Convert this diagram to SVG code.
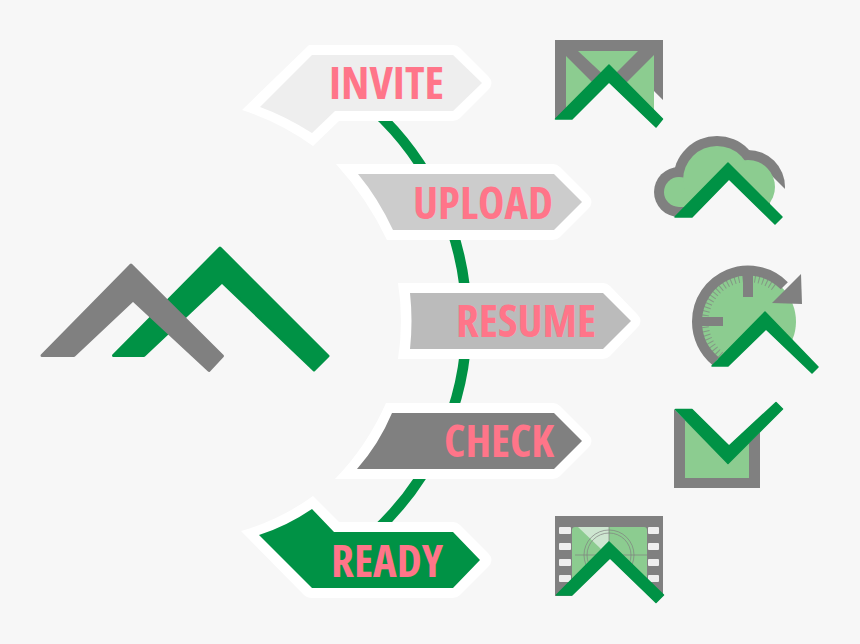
<svg xmlns="http://www.w3.org/2000/svg" width="860" height="644" viewBox="0 0 860 644">
<style>
.t{font-family:"Open Sans","Liberation Sans",sans-serif;font-weight:700;font-stretch:75%;font-size:45px;fill:#ff7589;text-anchor:start}
.w{fill:#fff}
.g{fill:#808080}
.l{fill:#8ccc90}
.d{fill:#009245;stroke:#009245;stroke-width:1.5;stroke-linejoin:round}
.e{fill:#f7f7f7}
.h{fill:#eee}
</style>
<defs>
<clipPath id="cloudClip"><polygon points="640,120 800,120 800,204 770,174 770,240 640,240"/></clipPath>
</defs>
<rect width="860" height="644" fill="#f7f7f7"/>
<g id="connectors">
<path d="M374 110A287 287 0 0 1 374 532.500" fill="none" stroke="#009245" stroke-width="10.500"/>
</g>
<g id="logo">
<polygon fill="#009245" stroke="#009245" stroke-width="3" stroke-linejoin="round" points="113.500,355.500 220,248 328,356 314,370 222,282 144,355.500"/>
<polygon class="g" stroke="#808080" stroke-width="3" stroke-linejoin="round" points="42,355.500 131,265 222.500,356 209,370.500 133,300 74,355.500"/>
</g>
<g id="invite">
<path class="w" d="M309 45H453Q457 45 460 48L488 76Q495 83 488 90L460 118Q457 121 453 121H339L313 146Q280 122 242 110Z"/>
<path fill="#eee" d="M312 55H453L482 83L453 111H335L312 133Q285 116 260 107Z"/>
<text class="t" x="329" y="99" textLength="115" lengthAdjust="spacingAndGlyphs">INVITE</text>
</g>
<g id="upload">
<path class="w" d="M336 164H553Q557 164 560 167L588 195Q595 202 588 209L560 237Q557 240 553 240H387Q367 198 336 164Z"/>
<path fill="#ccc" d="M358 174H554L582 202L554 230H393Q378 198 358 174Z"/>
<text class="t" x="413" y="219" textLength="140" lengthAdjust="spacingAndGlyphs">UPLOAD</text>
</g>
<g id="resume">
<path class="w" d="M398 283H603Q607 283 610 286L637 314Q644 321 637 328L610 356Q607 359 603 359H398Q404 321 398 283Z"/>
<path fill="#bbb" d="M410 293H603L631 321L603 349H410Q413 321 410 293Z"/>
<text class="t" x="456" y="337" textLength="140" lengthAdjust="spacingAndGlyphs">RESUME</text>
</g>
<g id="check">
<path class="w" d="M386 403H553Q557 403 560 406L588 434Q595 441 588 448L560 476Q557 479 553 479H335Q367 446 386 403Z"/>
<path fill="#808080" d="M392 413H554L582 441L554 469H357Q379 444 392 413Z"/>
<text class="t" x="444" y="457" textLength="110" lengthAdjust="spacingAndGlyphs">CHECK</text>
</g>
<g id="ready">
<path class="w" d="M313 496L339 522H453Q457 522 460 525L488 553Q495 560 488 567L460 595Q457 598 453 598H312Q307 598 304 595L241 531Q280 520 313 496Z"/>
<path fill="#009245" d="M312 509L334 532H453L480 560L453 588H312L259 535Q287 526 312 509Z"/>
<text class="t" x="331" y="577" textLength="112" lengthAdjust="spacingAndGlyphs">READY</text>
</g>
<g id="icon-mail">
<polygon class="g" points="555,40 663,40 663,100 654,91 654,119 555,119"/>
<polygon class="l" points="578,51 638,51 609,80"/>
<polygon class="l" points="566,56 596,86 566,119"/>
<polygon class="l" points="654,55 624,85 654,119"/>
<polygon class="e" points="609,82 572,119 572,135 670,135 656,127"/>
<polygon class="d" points="555.500,119 609,65 662.500,119 656,127 609,82 572,119"/>
</g>
<g id="icon-cloud">
<g class="g" clip-path="url(#cloudClip)">
<circle cx="679" cy="192" r="25"/><circle cx="717" cy="180" r="44"/><circle cx="748" cy="187" r="37"/>
<rect x="679" y="190" width="80" height="27"/>
</g>
<g class="l">
<circle cx="679" cy="192" r="15"/><circle cx="717" cy="180" r="34"/><circle cx="748" cy="187" r="27"/>
<rect x="679" y="190" width="70" height="17"/>
</g>
<polygon class="e" points="729,179 692,217 692,235 790,235 775,224"/>
<polygon class="d" points="675,217 728,163 782,217 775,224 729,179 692,217"/>
</g>
<g id="icon-clock">
<circle class="l" cx="748" cy="321.500" r="48"/>
<path d="M715.800 361.300A51 51 0 0 1 697 321.500A51 51 0 0 1 784.300 285.700" fill="none" stroke="#808080" stroke-width="10"/>
<path d="M721 355A43 43 0 0 1 705 321.500A43 43 0 0 1 776 289" fill="none" stroke="#808080" stroke-width="7" stroke-dasharray="1 3" opacity=".7"/>
<rect class="g" x="743" y="270" width="10" height="27"/>
<rect class="g" x="697" y="317" width="26" height="9"/>
<polygon class="g" points="801,274 802,304 772,303"/>
<polygon class="e" points="766,329 728,366 728,385 830,385 812,374"/>
<polygon class="d" points="712,366 765,312 818,367 812,373 766,329 728,366"/>
</g>
<g id="icon-check">
<polygon class="g" points="674,409 728,464 760,432 760,488 674,488"/>
<polygon class="l" points="685,420 728,464 749,443 749,478 685,478"/>
<polygon class="d" points="675.500,409.500 692,409.500 729,446 776,402.500 782.500,409 728,463.500"/>
</g>
<g id="icon-film">
<rect class="g" x="555" y="516" width="108" height="80"/>
<rect class="l" x="572" y="527" width="75" height="70" rx="3"/>
<polygon fill="#cde6d0" points="578,527 609,527 609,541 601,549"/>
<g fill="none" stroke="#808080" stroke-width=".7">
<circle cx="609" cy="555" r="25"/><circle cx="609" cy="555" r="22"/>
<path d="M575 555H647M609 527V560"/>
</g>
<g class="h">
<rect x="559" y="527" width="12" height="7" rx="1"/><rect x="559" y="543" width="12" height="7" rx="1"/><rect x="559" y="559" width="12" height="7" rx="1"/><rect x="559" y="575" width="12" height="7" rx="1"/>
<rect x="648" y="527" width="11" height="7" rx="1"/><rect x="648" y="543" width="11" height="7" rx="1"/><rect x="648" y="559" width="11" height="7" rx="1"/><rect x="648" y="575" width="11" height="7" rx="1"/>
</g>
<polygon class="e" points="610,558 572,595 572,612 672,612 656,603"/>
<polygon class="d" points="556.500,595 609,542 663.500,595 656,602.500 610,558 572,595"/>
</g>
</svg>
